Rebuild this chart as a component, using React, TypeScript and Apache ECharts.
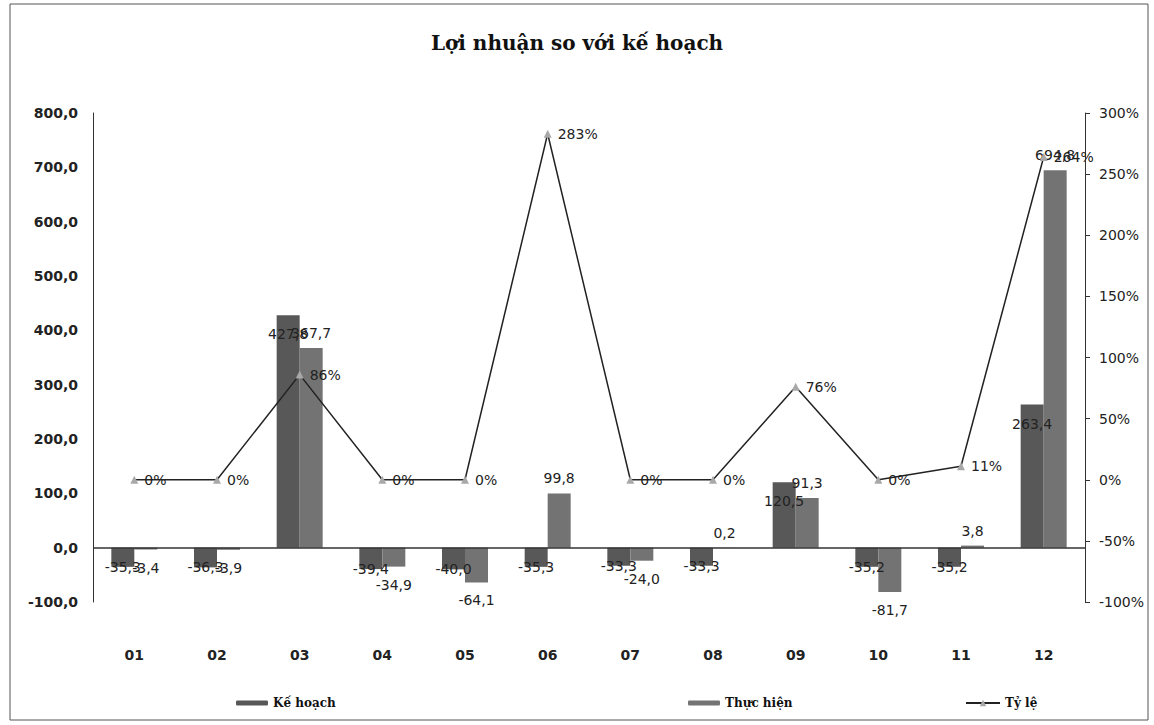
import React, { useEffect, useRef } from "react";
import * as echarts from "echarts";

const months = ["01", "02", "03", "04", "05", "06", "07", "08", "09", "10", "11", "12"];
const keHoach = [-35.3, -36.3, 427.8, -39.4, -40.0, -35.3, -33.3, -33.3, 120.5, -35.2, -35.2, 263.4];
const thucHien = [-3.4, -3.9, 367.7, -34.9, -64.1, 99.8, -24.0, 0.2, 91.3, -81.7, 3.8, 694.8];
const tyLe = [0, 0, 86, 0, 0, 283, 0, 0, 76, 0, 11, 264];

const fmt = (v: number) => v.toFixed(1).replace(".", ",");

export default function App() {
  const ref = useRef<HTMLDivElement>(null);
  useEffect(() => {
    document.body.style.margin = "0";
    const chart = echarts.init(ref.current!, null, { renderer: "svg" });
    const labelFont = { fontFamily: "DejaVu Sans", fontSize: 14, color: "#222" };
    const khData = keHoach.map((v) => ({
      value: v,
      label: v < 0 ? { position: "bottom", distance: -7 } : { position: "insideTop", distance: 12 },
    }));
    const thData = thucHien.map((v) => ({
      value: v,
      label: v < 0 ? { position: "bottom", distance: 11 } : { position: "top", distance: 8 },
    }));
    chart.setOption({
      animation: false,
      backgroundColor: "#ffffff",
      title: {
        text: "Lợi nhuận so với kế hoạch",
        left: "center",
        top: 28,
        textStyle: { fontFamily: "DejaVu Serif", fontWeight: "bold", fontSize: 20, color: "#111" },
      },
      graphic: [
        {
          type: "rect",
          shape: { x: 10, y: 4, width: 1138, height: 716 },
          style: { fill: "none", stroke: "#555", lineWidth: 1 },
          silent: true,
        },
      ],
      legend: [
        {
          data: ["Kế hoạch"],
          left: 231,
          top: 692,
          itemWidth: 32,
          itemHeight: 5,
          itemGap: 2,
          textStyle: { fontFamily: "DejaVu Serif", fontWeight: "bold", fontSize: 12, color: "#111" },
        },
        {
          data: ["Thực hiện"],
          left: 683,
          top: 692,
          itemWidth: 32,
          itemHeight: 5,
          textStyle: { fontFamily: "DejaVu Serif", fontWeight: "bold", fontSize: 12, color: "#111" },
        },
        {
          data: ["Tỷ lệ"],
          left: 960,
          top: 692,
          itemWidth: 34,
          itemHeight: 8,
          textStyle: { fontFamily: "DejaVu Serif", fontWeight: "bold", fontSize: 12, color: "#111" },
        },
      ],
      grid: { left: 93, right: 69, top: 113, bottom: 123 },
      xAxis: {
        type: "category",
        data: months,
        axisLine: { show: false, onZero: false },
        axisTick: { show: false },
        axisLabel: { margin: 46, fontFamily: "DejaVu Sans", fontSize: 14, fontWeight: "bold", color: "#222" },
        splitLine: { show: false },
      },
      yAxis: [
        {
          type: "value",
          min: -100,
          max: 800,
          interval: 100,
          axisLine: { show: true, lineStyle: { color: "#333", width: 1 } },
          axisTick: { show: false },
          splitLine: { show: false },
          axisLabel: {
            formatter: (v: number) => fmt(v),
            margin: 15,
            fontFamily: "DejaVu Sans",
            fontSize: 14,
            fontWeight: "bold",
            color: "#222",
          },
        },
        {
          type: "value",
          min: -100,
          max: 300,
          interval: 50,
          position: "right",
          axisLine: { show: true, lineStyle: { color: "#333", width: 1 } },
          axisTick: { show: true, length: 5, lineStyle: { color: "#333" } },
          splitLine: { show: false },
          axisLabel: {
            formatter: (v: number) => v + "%",
            margin: 14,
            fontFamily: "DejaVu Sans",
            fontSize: 14,
            color: "#222",
          },
        },
      ],
      series: [
        {
          name: "Kế hoạch",
          type: "bar",
          data: khData,
          barWidth: 23,
          barGap: "0%",
          itemStyle: { color: "#585858" },
          label: { show: true, formatter: (p: any) => fmt(p.value), ...labelFont },
          markLine: {
            silent: true,
            symbol: "none",
            data: [{ yAxis: 0 }],
            label: { show: false },
            lineStyle: { color: "#333", type: "solid", width: 1.5 },
          },
        },
        {
          name: "Thực hiện",
          type: "bar",
          data: thData,
          barWidth: 23,
          barGap: "0%",
          itemStyle: { color: "#737373" },
          label: { show: true, formatter: (p: any) => fmt(p.value), ...labelFont },
        },
        {
          name: "Tỷ lệ",
          type: "line",
          yAxisIndex: 1,
          data: tyLe,
          symbol: "triangle",
          symbolSize: 8,
          itemStyle: { color: "#a8a8a8" },
          lineStyle: { color: "#222", width: 1.5 },
          label: { show: true, position: "right", formatter: "{c}%", ...labelFont, distance: 6 },
          z: 5,
        },
      ],
    });
    return () => chart.dispose();
  }, []);
  return <div ref={ref} style={{ width: 1154, height: 725 }} />;
}
